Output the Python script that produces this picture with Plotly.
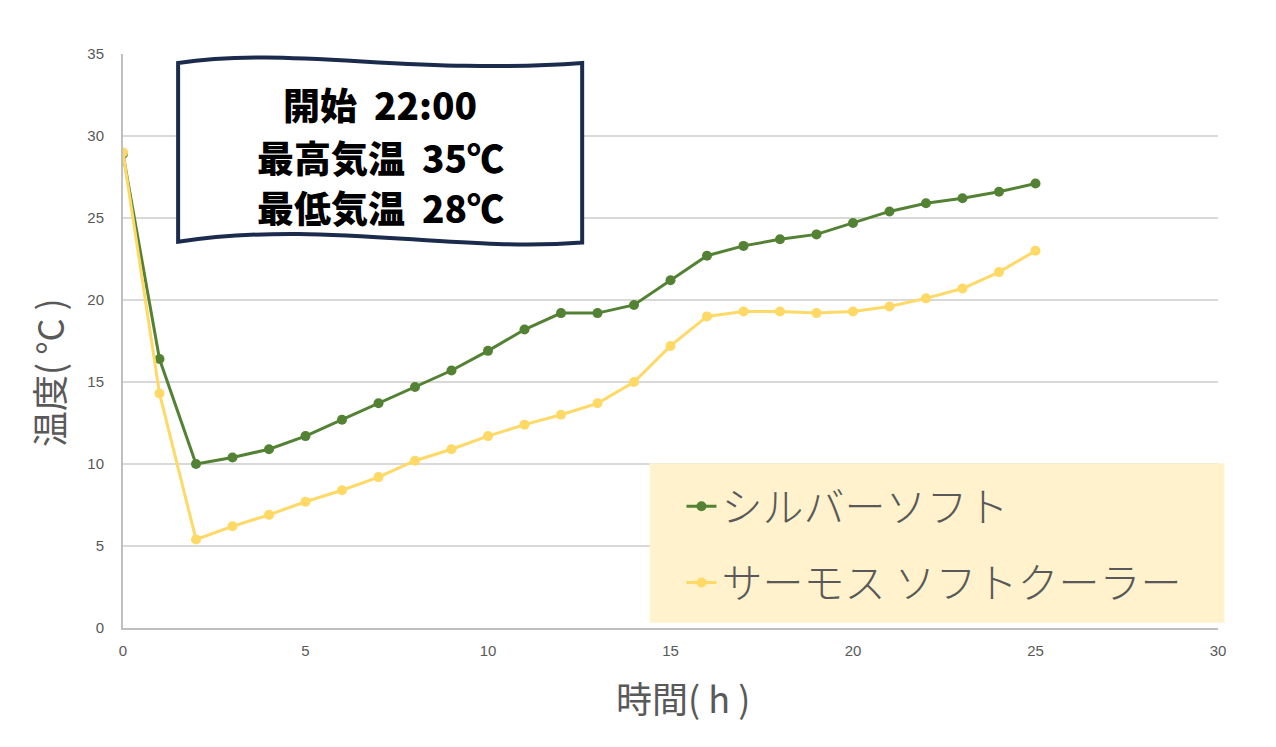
import plotly.graph_objects as go

hours = list(range(0, 26))
silver = [28.9, 16.4, 10.0, 10.4, 10.9, 11.7, 12.7, 13.7, 14.7, 15.7, 16.9, 18.2, 19.2,
          19.2, 19.7, 21.2, 22.7, 23.3, 23.7, 24.0, 24.7, 25.4, 25.9, 26.2, 26.6, 27.1]
thermos = [29.0, 14.3, 5.4, 6.2, 6.9, 7.7, 8.4, 9.2, 10.2, 10.9, 11.7, 12.4, 13.0,
           13.7, 15.0, 17.2, 19.0, 19.3, 19.3, 19.2, 19.3, 19.6, 20.1, 20.7, 21.7, 23.0]
names = ["シルバーソフト", "サーモス ソフトクーラー"]
note = ["開始  22:00", "最高気温  35℃", "最低気温  28℃"]
note_y = [31.95, 28.75, 25.7]

jp = "Noto Sans CJK JP"
grey = "#595959"

fig = go.Figure()
fig.add_trace(go.Scatter(x=hours, y=silver, name=names[0], mode="lines+markers",
                         line=dict(color="#548235", width=3),
                         marker=dict(size=10, color="#548235"), legendgroup="a"))
fig.add_trace(go.Scatter(x=hours, y=thermos, name=names[1], mode="lines+markers",
                         line=dict(color="#FFD966", width=3),
                         marker=dict(size=10, color="#FFD966"), legendgroup="b"))

# legend background box
fig.add_shape(type="rect", xref="paper", yref="paper", x0=0.481, x1=1.006, y0=0.009, y1=0.287,
              fillcolor="#FFF2CC", line_width=0, layer="above")

# banner
fig.add_shape(type="path", xref="x", yref="y", layer="above",
              path="M 1.51,34.45 C 4.5,35.5 8,33.7 12.58,34.45 L 12.58,23.5 "
                   "C 9,22.9 5.5,24.9 1.51,23.55 Z",
              fillcolor="white", line=dict(color="#1B2B4D", width=4))
for line, yy in zip(note, note_y):
    fig.add_annotation(xref="x", yref="y", x=7.05, y=yy, text=line,
                       showarrow=False, align="center",
                       font=dict(family=jp, size=37, color="black", weight=900))

# axis titles
fig.add_annotation(xref="paper", yref="paper", x=0.511, y=-0.12, text="時間( h )",
                   xanchor="center", yanchor="middle",
                   showarrow=False, font=dict(family=jp, size=36, color=grey))
fig.add_annotation(xref="paper", yref="paper", x=-0.0685, y=0.446, text="温度( °C )",
                   xanchor="center", yanchor="middle",
                   textangle=-90, showarrow=False, font=dict(family=jp, size=36, color=grey))

fig.update_layout(
    width=1276, height=747,
    margin=dict(l=115, r=66, t=46, b=127),
    plot_bgcolor="white", paper_bgcolor="white",
    font=dict(family="Liberation Sans", color=grey),
    legend=dict(x=0.51, y=0.27, xanchor="left", yanchor="top",
                bgcolor="rgba(0,0,0,0)", tracegroupgap=20,
                font=dict(family=jp, size=41, color=grey, weight=300)),
    xaxis=dict(range=[0, 30], dtick=5, showgrid=False, showline=True, linecolor="#BFBFBF",
               linewidth=2, tickfont=dict(size=15, color=grey), ticks="outside",
               ticklen=8, tickcolor="rgba(0,0,0,0)", zeroline=False),
    yaxis=dict(range=[0, 35], dtick=5, gridcolor="#D9D9D9", gridwidth=1.5, showline=True,
               linecolor="#BFBFBF", linewidth=2, tickfont=dict(size=15, color=grey),
               ticks="outside", ticklen=14, tickcolor="rgba(0,0,0,0)", zeroline=False),
)

fig.write_html("out.html")
